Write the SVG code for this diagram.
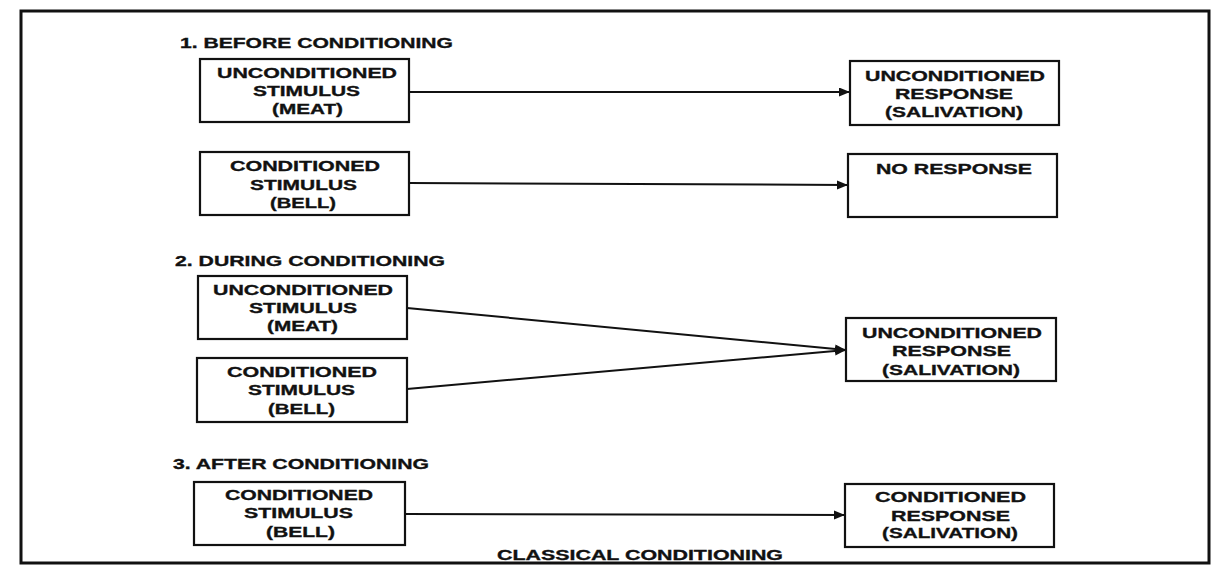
<svg xmlns="http://www.w3.org/2000/svg" width="1212" height="567" viewBox="0 0 1212 567">
<style>
.bg{fill:#ffffff}
.frame{fill:none;stroke:#111;stroke-width:3}
.box{fill:#fff;stroke:#111;stroke-width:2.2}
.edge{fill:none;stroke:#111;stroke-width:2}
text{font-family:"Liberation Sans",Arial,sans-serif;font-weight:bold;font-size:15.5px;fill:#111;stroke:#111;stroke-width:0.35}
</style>
<defs>
<marker id="ah" markerUnits="userSpaceOnUse" markerWidth="13" markerHeight="10" refX="11" refY="4.5" orient="auto">
<path d="M0,0 L11,4.5 L0,9 z" fill="#111"/>
</marker>
</defs>
<rect class="bg" x="0" y="0" width="1212" height="567"/>
<rect class="frame" x="21" y="11" width="1188" height="552"/>

<g id="headers">
<text x="180" y="48" textLength="273" lengthAdjust="spacingAndGlyphs">1. BEFORE CONDITIONING</text>
<text x="175" y="266" textLength="270" lengthAdjust="spacingAndGlyphs">2. DURING CONDITIONING</text>
<text x="173" y="469" textLength="256" lengthAdjust="spacingAndGlyphs">3. AFTER CONDITIONING</text>
<text x="497" y="560" textLength="286" lengthAdjust="spacingAndGlyphs">CLASSICAL CONDITIONING</text>
</g>

<g id="connectors">
<line class="edge" x1="409" y1="92" x2="850" y2="92" marker-end="url(#ah)"/>
<line class="edge" x1="409" y1="183" x2="848" y2="185" marker-end="url(#ah)"/>
<line class="edge" x1="407" y1="308" x2="846" y2="350" marker-end="url(#ah)"/>
<line class="edge" x1="407" y1="389" x2="846" y2="350" marker-end="url(#ah)"/>
<line class="edge" x1="405" y1="514" x2="845" y2="515" marker-end="url(#ah)"/>
</g>

<g id="us1">
<rect class="box" x="200" y="59" width="209" height="63"/>
<text x="217" y="78" textLength="180" lengthAdjust="spacingAndGlyphs">UNCONDITIONED</text>
<text x="253" y="96" textLength="107" lengthAdjust="spacingAndGlyphs">STIMULUS</text>
<text x="272" y="114" textLength="71" lengthAdjust="spacingAndGlyphs">(MEAT)</text>
</g>
<g id="cs1">
<rect class="box" x="200" y="152" width="209" height="63"/>
<text x="230" y="171" textLength="150" lengthAdjust="spacingAndGlyphs">CONDITIONED</text>
<text x="250" y="190" textLength="107" lengthAdjust="spacingAndGlyphs">STIMULUS</text>
<text x="270" y="208" textLength="66" lengthAdjust="spacingAndGlyphs">(BELL)</text>
</g>
<g id="ur1">
<rect class="box" x="850" y="61" width="209" height="64"/>
<text x="865" y="81" textLength="180" lengthAdjust="spacingAndGlyphs">UNCONDITIONED</text>
<text x="895" y="99" textLength="118" lengthAdjust="spacingAndGlyphs">RESPONSE</text>
<text x="885" y="117" textLength="138" lengthAdjust="spacingAndGlyphs">(SALIVATION)</text>
</g>
<g id="nr">
<rect class="box" x="848" y="154" width="209" height="63"/>
<text x="876" y="174" textLength="156" lengthAdjust="spacingAndGlyphs">NO RESPONSE</text>
</g>

<g id="us2">
<rect class="box" x="198" y="276" width="209" height="63"/>
<text x="213" y="295" textLength="180" lengthAdjust="spacingAndGlyphs">UNCONDITIONED</text>
<text x="249" y="313" textLength="108" lengthAdjust="spacingAndGlyphs">STIMULUS</text>
<text x="267" y="331" textLength="71" lengthAdjust="spacingAndGlyphs">(MEAT)</text>
</g>
<g id="cs2">
<rect class="box" x="197" y="358" width="210" height="64"/>
<text x="227" y="377" textLength="150" lengthAdjust="spacingAndGlyphs">CONDITIONED</text>
<text x="248" y="395" textLength="107" lengthAdjust="spacingAndGlyphs">STIMULUS</text>
<text x="268" y="414" textLength="67" lengthAdjust="spacingAndGlyphs">(BELL)</text>
</g>
<g id="ur2">
<rect class="box" x="846" y="318" width="210" height="63"/>
<text x="862" y="338" textLength="180" lengthAdjust="spacingAndGlyphs">UNCONDITIONED</text>
<text x="892" y="356" textLength="119" lengthAdjust="spacingAndGlyphs">RESPONSE</text>
<text x="882" y="375" textLength="138" lengthAdjust="spacingAndGlyphs">(SALIVATION)</text>
</g>

<g id="cs3">
<rect class="box" x="194" y="482" width="211" height="63"/>
<text x="225" y="500" textLength="148" lengthAdjust="spacingAndGlyphs">CONDITIONED</text>
<text x="244" y="518" textLength="109" lengthAdjust="spacingAndGlyphs">STIMULUS</text>
<text x="266" y="537" textLength="69" lengthAdjust="spacingAndGlyphs">(BELL)</text>
</g>
<g id="cr">
<rect class="box" x="845" y="484" width="209" height="63"/>
<text x="875" y="502" textLength="151" lengthAdjust="spacingAndGlyphs">CONDITIONED</text>
<text x="891" y="521" textLength="119" lengthAdjust="spacingAndGlyphs">RESPONSE</text>
<text x="882" y="538" textLength="136" lengthAdjust="spacingAndGlyphs">(SALIVATION)</text>
</g>
</svg>
